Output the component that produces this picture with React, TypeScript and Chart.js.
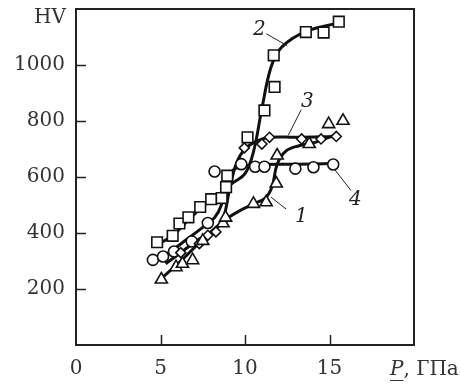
import React, { useEffect, useRef } from "react";
import { Chart, registerables } from "chart.js";

Chart.register(...registerables);

// Markers (P, GPa ; HV)
const series1Tri: [number, number][] = [
  [5.05, 234], [5.92, 278], [6.3, 290], [6.9, 303], [7.5, 372], [8.7, 435], [8.85, 455],
  [10.5, 504], [11.25, 510], [11.85, 577], [11.9, 677], [13.8, 718], [14.95, 789], [15.8, 801],
];
const series2Sq: [number, number][] = [
  [4.8, 367], [5.72, 390], [6.12, 434], [6.65, 456], [7.35, 493], [8.0, 521], [8.62, 525],
  [8.88, 564], [8.95, 605], [10.15, 742], [11.15, 838], [11.75, 922], [11.7, 1035],
  [13.6, 1118], [14.65, 1116], [15.55, 1155],
];
const series3Dia: [number, number][] = [
  [6.2, 330], [7.3, 362], [7.8, 392], [8.28, 404], [9.96, 704], [11.0, 718],
  [11.45, 742], [13.35, 736], [14.5, 736], [15.4, 745],
];
const series4Circ: [number, number][] = [
  [4.55, 304], [5.15, 316], [5.8, 334], [6.85, 370], [7.8, 436], [8.2, 620],
  [9.78, 646], [10.6, 637], [11.15, 637], [12.98, 630], [14.05, 635], [15.22, 645],
];

// Fitted curves
const curve1: [number, number][] = [
  [5.1, 240], [6.2, 300], [7.3, 365], [8.9, 450], [10.4, 502], [11.2, 525], [11.6, 565],
  [11.9, 645], [12.4, 692], [13.2, 712], [14.2, 725], [15.5, 755],
];
const curve2: [number, number][] = [
  [4.9, 360], [5.8, 395], [6.7, 450], [7.6, 500], [8.5, 540], [9.3, 580], [10.0, 612],
  [10.5, 690], [11.0, 845], [11.5, 985], [12.0, 1052], [12.8, 1095], [13.8, 1125], [15.5, 1150],
];
const curve3: [number, number][] = [
  [5.3, 290], [6.2, 330], [7.2, 375], [8.2, 410], [8.7, 450], [9.1, 560], [9.5, 650],
  [10.0, 700], [10.7, 728], [11.5, 742], [13.0, 742], [15.4, 745],
];
const curve4: [number, number][] = [
  [4.6, 300], [5.5, 330], [6.5, 375], [7.5, 420], [8.2, 455], [8.6, 500], [8.9, 580],
  [9.3, 625], [10.0, 640], [11.0, 645], [13.0, 646], [15.2, 648],
];

// Curve labels and leader lines (data units)
const curveLabels = ["1", "2", "3", "4"];
const labelPos: [number, number][] = [[13.33, 457], [10.85, 1127], [13.69, 870], [16.53, 517]];
const leaderFrom: [number, number][] = [[12.43, 486], [11.26, 1112], [13.33, 841], [16.27, 552]];
const leaderTo: [number, number][] = [[11.54, 528], [12.5, 1069], [12.56, 749], [15.28, 629]];

const xTicks = [0, 5, 10, 15];
const yTicks = [200, 400, 600, 800, 1000];
const yAxisTitle = "HV";
const xAxisTitleItalic = "P";
const xAxisTitleRest = ", ГПа";

const FONT = "'DejaVu Serif', serif";
const INK = "#222";

const toPts = (a: [number, number][]) => a.map(([x, y]) => ({ x, y }));

export default function App() {
  const ref = useRef<HTMLCanvasElement | null>(null);

  useEffect(() => {
    const canvas = ref.current;
    if (!canvas) return;

    const framePlugin = {
      id: "frame",
      afterDatasetsDraw(chart: any) {
        const { ctx, chartArea: a, scales } = chart;
        const xs = scales.x, ys = scales.y;
        ctx.save();
        // box
        ctx.strokeStyle = INK;
        ctx.lineWidth = 2;
        ctx.beginPath();
        ctx.rect(a.left, a.top, a.right - a.left, a.bottom - a.top);
        ctx.stroke();
        // inward ticks
        ctx.lineWidth = 1.5;
        ctx.beginPath();
        for (const v of yTicks) {
          const py = Math.round(ys.getPixelForValue(v)) + 0.5;
          ctx.moveTo(a.left, py);
          ctx.lineTo(a.left + 10, py);
        }
        for (const v of xTicks) {
          if (v === 0) continue;
          const px = Math.round(xs.getPixelForValue(v)) + 0.5;
          ctx.moveTo(px, a.bottom);
          ctx.lineTo(px, a.bottom - 10);
        }
        ctx.stroke();
        // leader lines
        ctx.lineWidth = 1;
        ctx.beginPath();
        for (let i = 0; i < leaderFrom.length; i++) {
          ctx.moveTo(xs.getPixelForValue(leaderFrom[i][0]), ys.getPixelForValue(leaderFrom[i][1]));
          ctx.lineTo(xs.getPixelForValue(leaderTo[i][0]), ys.getPixelForValue(leaderTo[i][1]));
        }
        ctx.stroke();
        // curve labels
        ctx.fillStyle = INK;
        ctx.font = `italic 20px ${FONT}`;
        ctx.textAlign = "center";
        ctx.textBaseline = "middle";
        for (let i = 0; i < curveLabels.length; i++) {
          ctx.fillText(curveLabels[i], xs.getPixelForValue(labelPos[i][0]), ys.getPixelForValue(labelPos[i][1]));
        }
        // axis titles
        ctx.fillStyle = "#333";
        ctx.font = `20px ${FONT}`;
        ctx.textAlign = "right";
        ctx.fillText(yAxisTitle, a.left - 10, 18);
        ctx.textAlign = "left";
        ctx.font = `italic 20px ${FONT}`;
        const tx = a.right - 24;
        const ty = 370;
        ctx.fillText(xAxisTitleItalic, tx, ty);
        const pw = ctx.measureText(xAxisTitleItalic).width;
        ctx.fillRect(tx, ty + 10, pw, 1);
        ctx.font = `20px ${FONT}`;
        ctx.fillText(xAxisTitleRest, tx + pw, ty);
        ctx.restore();
      },
    };

    const markerBase = {
      showLine: false,
      backgroundColor: "#fff",
      borderColor: "#111",
      pointBackgroundColor: "#fff",
      pointBorderColor: "#111",
      pointBorderWidth: 1.6,
      order: 1,
    };
    const lineBase = {
      showLine: true,
      borderColor: "#111",
      borderWidth: 3,
      pointRadius: 0,
      tension: 0.4,
      fill: false,
      order: 2,
    };

    const chart = new Chart(canvas, {
      type: "scatter",
      data: {
        datasets: [
          { ...lineBase, label: "c1", data: toPts(curve1) },
          { ...lineBase, label: "c2", data: toPts(curve2) },
          { ...lineBase, label: "c3", data: toPts(curve3) },
          { ...lineBase, label: "c4", data: toPts(curve4) },
          { ...markerBase, label: "1", data: toPts(series1Tri), pointStyle: "triangle", pointRadius: 7 },
          { ...markerBase, label: "2", data: toPts(series2Sq), pointStyle: "rect", pointRadius: 7.5 },
          { ...markerBase, label: "3", data: toPts(series3Dia), pointStyle: "rectRot", pointRadius: 5 },
          { ...markerBase, label: "4", data: toPts(series4Circ), pointStyle: "circle", pointRadius: 5.5 },
        ] as any,
      },
      options: {
        animation: false,
        responsive: false,
        maintainAspectRatio: false,
        layout: { padding: { top: 7, right: 47, left: 0, bottom: 0 } },
        plugins: { legend: { display: false }, tooltip: { enabled: false } },
        scales: {
          x: {
            type: "linear",
            min: 0,
            max: 20,
            grid: { display: false, drawTicks: false },
            border: { display: false },
            afterFit: (s: any) => { s.height = 40; s.paddingLeft = 0; s.paddingRight = 0; },
            afterBuildTicks: (s: any) => { s.ticks = xTicks.map((v) => ({ value: v })); },
            ticks: {
              padding: 12,
              color: "#333",
              font: { family: FONT, size: 20 },
              callback: (v: any) => String(v),
            },
          },
          y: {
            type: "linear",
            min: 0,
            max: 1200,
            grid: { display: false, drawTicks: false },
            border: { display: false },
            afterFit: (s: any) => { s.width = 76; s.paddingTop = 0; s.paddingBottom = 0; },
            afterBuildTicks: (s: any) => { s.ticks = yTicks.map((v) => ({ value: v })); },
            ticks: {
              padding: 11,
              color: "#333",
              font: { family: FONT, size: 20 },
              callback: (v: any) => String(v),
            },
          },
        },
      },
      plugins: [framePlugin],
    } as any);

    return () => chart.destroy();
  }, []);

  return (
    <div style={{ position: "fixed", left: 0, top: 0, width: 461, height: 385, background: "#fff" }}>
      <canvas ref={ref} width={461} height={385} style={{ display: "block", width: 461, height: 385 }} />
    </div>
  );
}
